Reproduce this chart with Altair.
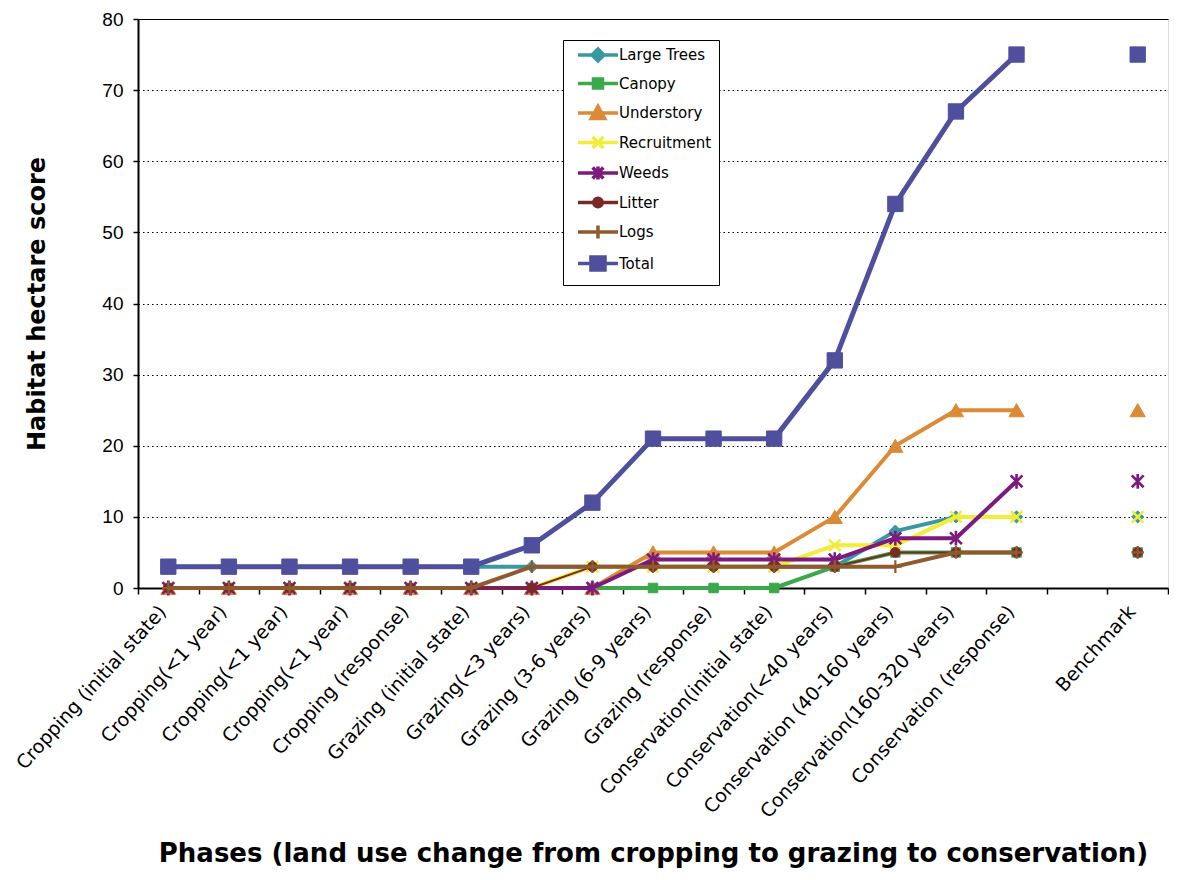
import json
import altair as alt
import pandas as pd

# ---------------- data ----------------
phase_labels = [
    "Cropping (initial state)",
    "Cropping(<1 year)",
    "Cropping(<1 year)",
    "Cropping(<1 year)",
    "Cropping (response)",
    "Grazing (initial state)",
    "Grazing(<3 years)",
    "Grazing (3-6 years)",
    "Grazing (6-9 years)",
    "Grazing (response)",
    "Conservation(initial state)",
    "Conservation(<40 years)",
    "Conservation (40-160 years)",
    "Conservation(160-320 years)",
    "Conservation (response)",
    "",
    "Benchmark",
]

series_names = ["Large Trees", "Canopy", "Understory", "Recruitment",
                "Weeds", "Litter", "Logs", "Total"]

large_trees = [3, 3, 3, 3, 3, 3, 3, 3, 3, 3, 3, 3, 8, 10, 10, None, 10]
canopy      = [0, 0, 0, 0, 0, 0, 0, 0, 0, 0, 0, 3, 5, 5, 5, None, 5]
understory  = [0, 0, 0, 0, 0, 0, 0, 0, 5, 5, 5, 10, 20, 25, 25, None, 25]
recruitment = [0, 0, 0, 0, 0, 0, 0, 3, 3, 3, 3, 6, 6, 10, 10, None, 10]
weeds       = [0, 0, 0, 0, 0, 0, 0, 0, 4, 4, 4, 4, 7, 7, 15, None, 15]
litter      = [0, 0, 0, 0, 0, 0, 0, 3, 3, 3, 3, 3, 5, 5, 5, None, 5]
logs        = [0, 0, 0, 0, 0, 0, 3, 3, 3, 3, 3, 3, 3, 5, 5, None, 5]
total       = [3, 3, 3, 3, 3, 3, 6, 12, 21, 21, 21, 32, 54, 67, 75, None, 75]

series_values = [large_trees, canopy, understory, recruitment,
                 weeds, litter, logs, total]

series_colors = ["#3A98A2", "#3BA84B", "#DB8A36", "#F2EC3A",
                 "#7C1A7E", "#7A2828", "#8F5A2E", "#4F4F9E"]

LAST_CONNECTED = 14  # the line stops before the blank slot; Benchmark is a lone marker

rows = []
for name, vals in zip(series_names, series_values):
    for i, v in enumerate(vals):
        rows.append({"idx": i, "series": name, "value": v})
df = pd.DataFrame(rows)

# ---------------- styles ----------------
X_PATH = "M-1,-1L1,1M-1,1L1,-1"
AST_PATH = "M-1,-1L1,1M-1,1L1,-1M0,-1.25L0,1.25"
PLUS_PATH = "M-1,0L1,0M0,-1L0,1"

marker_styles = {
    "Large Trees": dict(shape="diamond", size=150, filled=True, sw=1),
    "Canopy": dict(shape="square", size=90, filled=True, sw=1),
    "Understory": dict(shape="triangle-up", size=230, filled=True, sw=1),
    "Recruitment": dict(shape=X_PATH, size=130, filled=False, sw=2.6),
    "Weeds": dict(shape=AST_PATH, size=140, filled=False, sw=2.6),
    "Litter": dict(shape="circle", size=95, filled=True, sw=1),
    "Logs": dict(shape=PLUS_PATH, size=160, filled=False, sw=2.2),
    "Total": dict(shape="square", size=235, filled=True, sw=1),
}
line_widths = {"Large Trees": 4, "Canopy": 4, "Understory": 4,
               "Recruitment": 4, "Weeds": 4, "Litter": 2,
               "Logs": 4, "Total": 5}

LINE = "M0,0L6.67,0"
legend_paths = [
    LINE + "M3.33,-1L4.33,0L3.33,1L2.33,0Z",
    LINE + "M2.58,-0.75L4.08,-0.75L4.08,0.75L2.58,0.75Z",
    LINE + "M3.33,-1.1L4.45,0.9L2.21,0.9Z",
    LINE + "M2.43,-0.9L4.23,0.9M2.43,0.9L4.23,-0.9",
    LINE + "M2.43,-0.9L4.23,0.9M2.43,0.9L4.23,-0.9M3.33,-1.1L3.33,1.1",
    LINE + "M2.63,0A0.7,0.7 0 1,0 4.03,0A0.7,0.7 0 1,0 2.63,0Z",
    LINE + "M3.33,-1.1L3.33,1.1",
    LINE + "M2.16,-1.1L4.5,-1.1L4.5,1.1L2.16,1.1Z",
]

label_expr = json.dumps(phase_labels) + "[datum.value]"

x_enc = alt.X(
    "idx:O",
    scale=alt.Scale(type="band", domain=list(range(len(phase_labels))),
                    paddingInner=0, paddingOuter=0),
    axis=alt.Axis(
        title="Phases (land use change from cropping to grazing to conservation)",
        titleFont="DejaVu Sans", titleFontSize=26, titleFontWeight="bold",
        titleColor="black", titleY=273, titleBaseline="alphabetic",
        labelExpr=label_expr, labelAngle=-48, labelAlign="right",
        labelBaseline="middle", labelFont="DejaVu Sans",
        labelFontSize=19, labelColor="black", labelPadding=14,
        labelOffset=-6, labelLimit=0, labelOverlap=False,
        tickBand="extent", ticks=True, tickSize=6, tickColor="black",
        tickWidth=1.5, domainColor="black", domainWidth=2, grid=False,
    ),
)

y_enc = alt.Y(
    "value:Q",
    scale=alt.Scale(domain=[0, 80], nice=False),
    axis=alt.Axis(
        title="Habitat hectare score",
        titleFont="DejaVu Sans", titleFontSize=24, titleFontWeight="bold",
        titleColor="black", titlePadding=52,
        values=list(range(0, 81, 10)),
        labelFont="Liberation Sans", labelFontSize=19, labelColor="black",
        labelPadding=10, tickSize=5, tickColor="black", tickWidth=1.5,
        domainColor="black", domainWidth=2,
        grid=True, gridColor="black", gridWidth=1,
        gridDash={"condition": {"test": "datum.value === 80", "value": []},
                  "value": [1.5, 3]},
    ),
)

layers = []
for name, color in zip(series_names, series_colors):
    st = marker_styles[name]
    base = alt.Chart(df).transform_filter(alt.datum.series == name)
    line = base.transform_filter(alt.datum.idx <= LAST_CONNECTED).mark_line(
        color=color, strokeWidth=line_widths[name], strokeJoin="round"
    ).encode(x=x_enc, y=y_enc)
    if st["filled"]:
        pts = base.mark_point(shape=st["shape"], size=st["size"], filled=True,
                              color=color, stroke=color, strokeWidth=st["sw"],
                              opacity=1)
    else:
        pts = base.mark_point(shape=st["shape"], size=st["size"], filled=False,
                              color=color, strokeWidth=st["sw"], opacity=1)
    layers.append(line)
    layers.append(pts.encode(x=x_enc, y=y_enc))

color_scale = alt.Scale(domain=series_names, range=series_colors)
shape_scale = alt.Scale(domain=series_names, range=legend_paths)
leg = alt.Legend(
    title=None, orient="none", legendX=425, legendY=21,
    strokeColor="black", fillColor="white", padding=7,
    symbolSize=144, symbolStrokeWidth=3.5, symbolOpacity=1,
    labelFont="DejaVu Sans", labelFontSize=15, labelColor="black",
    labelOffset=33, rowPadding=3.5, symbolLimit=0,
)
legend_layer = alt.Chart(df).transform_filter(alt.datum.idx == 0).mark_point(
    filled=True, opacity=0
).encode(
    x=x_enc, y=y_enc,
    fill=alt.Fill("series:N", scale=color_scale, legend=leg),
    stroke=alt.Stroke("series:N", scale=color_scale, legend=leg),
    shape=alt.Shape("series:N", scale=shape_scale, legend=leg),
)
layers.append(legend_layer)

chart = alt.layer(*layers).properties(
    width=1030, height=569,
    padding={"left": 5, "top": 2, "right": 0, "bottom": 2},
).configure_view(stroke=None).configure(background="white")

chart.save("out.html", embed_options={"renderer": "svg", "actions": False})
